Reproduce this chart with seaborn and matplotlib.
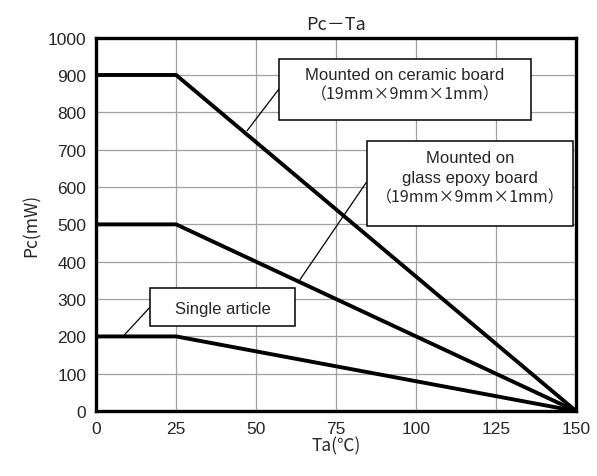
import numpy as np
import pandas as pd
import matplotlib
matplotlib.use("Agg")
import matplotlib.pyplot as plt
import seaborn as sns
from matplotlib.patches import Rectangle

# Data
ta = [0, 25, 150]
pc_ceramic = [900, 900, 0]
pc_glass = [500, 500, 0]
pc_single = [200, 200, 0]
series = ["ceramic", "glass", "single"]

x_ticks = [0, 25, 50, 75, 100, 125, 150]
y_ticks = [0, 100, 200, 300, 400, 500, 600, 700, 800, 900, 1000]

df = pd.DataFrame({
    "Ta": ta * 3,
    "Pc": pc_ceramic + pc_glass + pc_single,
    "board": [s for s in series for _ in ta],
})

sns.set_style("white")
plt.rcParams["font.family"] = ["Liberation Sans", "Noto Sans CJK JP", "DejaVu Sans"]
CJK = ["Noto Sans CJK JP", "DejaVu Sans"]

fig = plt.figure(figsize=(5.97, 4.77), dpi=100)
ax = fig.add_axes([0.161, 0.136, 0.804, 0.783])

sns.lineplot(data=df, x="Ta", y="Pc", units="board", estimator=None,
             color="black", linewidth=2.8, ax=ax, legend=False)

ax.set_xlim(0, 150)
ax.set_ylim(0, 1000)
ax.set_xticks(x_ticks)
ax.set_yticks(y_ticks)
ax.grid(True, color="#a0a0a0", linewidth=0.9)
ax.set_axisbelow(True)
ax.tick_params(length=0, labelsize=12.5, pad=7)
for sp in ax.spines.values():
    sp.set_visible(True)
    sp.set_color("black")
    sp.set_linewidth(2.4)

ax.set_title("Pc\uff0dTa", fontsize=13, pad=6, family=CJK)
ax.set_xlabel("Ta(\u2103)", fontsize=12.5, labelpad=0, family=CJK)
ax.set_ylabel("Pc(mW)", fontsize=12.5, labelpad=5, family=CJK)

# annotation boxes: (x0, y0, x1, y1), text lines, leader start, leader end, text shift (px up)
paren = "\uff0819mm\u00d79mm\u00d71mm\uff09"
notes = [
    ((57.2, 780, 135.9, 944), ["Mounted on ceramic board", paren],
     (57.2, 863), (47.2, 751), 5),
    ((84.7, 496, 149.1, 724), ["Mounted on", "glass epoxy board", paren],
     (84.5, 613), (63.7, 352), 6),
    ((16.9, 228, 62.2, 330), ["Single article"],
     (16.9, 279), (8.4, 200), -2),
]
step = 19.5 * 0.72  # line spacing in points
for (x0, y0, x1, y1), lines, p0, p1, shift in notes:
    ax.add_patch(Rectangle((x0, y0), x1 - x0, y1 - y0, facecolor="white",
                           edgecolor="black", linewidth=1.1, zorder=4))
    cx, cy = (x0 + x1) / 2, (y0 + y1) / 2
    n = len(lines)
    for i, line in enumerate(lines):
        off = ((n - 1) / 2 - i) * step + shift * 0.72
        if line == paren:
            ax.annotate(line, (cx, cy), xytext=(0, off), textcoords="offset points",
                        ha="center", va="center", fontsize=11.5, family=CJK, zorder=5)
        else:
            ax.annotate(line, (cx, cy), xytext=(0, off), textcoords="offset points",
                        ha="center", va="center", fontsize=12, zorder=5)
    ax.plot([p0[0], p1[0]], [p0[1], p1[1]], color="black", linewidth=0.9, zorder=3)

fig.savefig("out.png", dpi=100)
